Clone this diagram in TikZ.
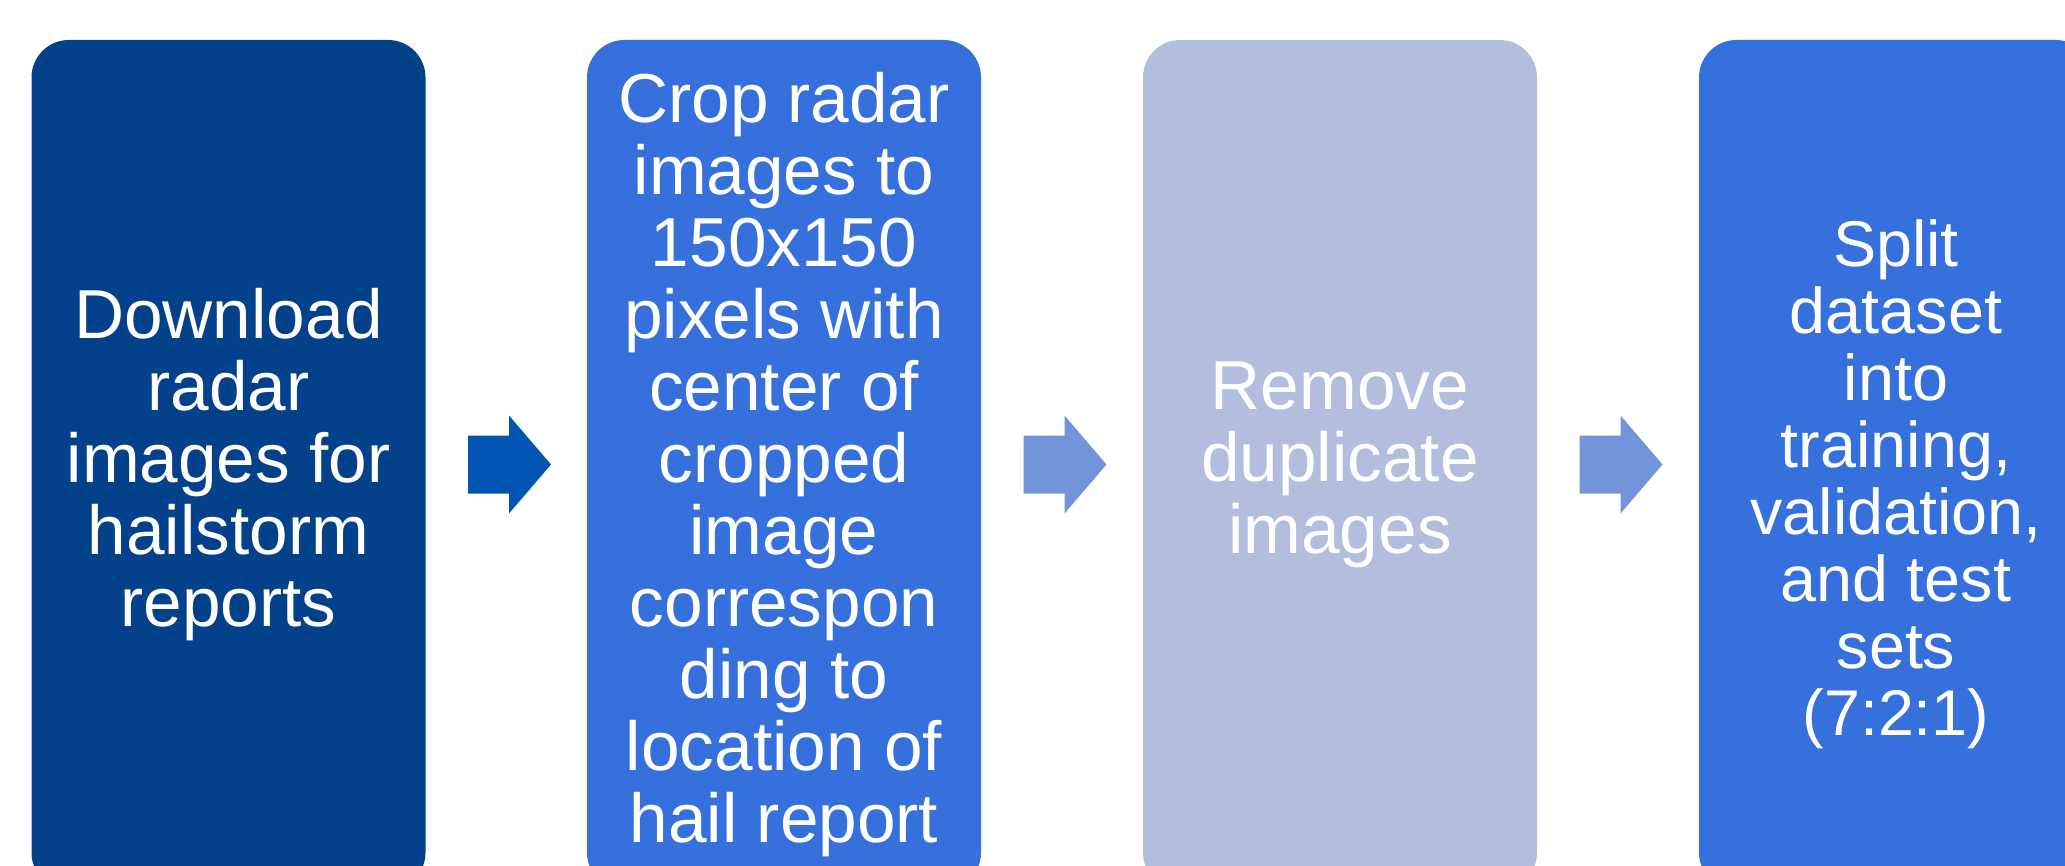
\documentclass[tikz,border=0pt]{standalone}
\usepackage{fontspec}
\setmainfont{Liberation Sans}
\usetikzlibrary{calc}

\definecolor{navyblue}{RGB}{3,65,138}
\definecolor{midblue}{RGB}{54,112,220}
\definecolor{paleblue}{RGB}{179,190,223}
\definecolor{arrowdark}{RGB}{3,85,179}
\definecolor{arrowlight}{RGB}{114,148,219}

\tikzset{every picture/.style={line width=0.75pt}}
\tikzset{
  stepbox/.style={rounded corners=28pt, minimum width=295.5pt, minimum height=637.5pt,
    inner sep=0pt, align=center, text=white, font=\fontsize{52}{54}\selectfont},
  steptext/.style={inner sep=0pt, align=center, text=white, font=\fontsize{48.5}{50.3}\selectfont}
}

\begin{document}
\begin{tikzpicture}[x=0.75pt,y=0.75pt,yscale=-1,xscale=1]
\useasboundingbox (0,0) rectangle (2065,866);

% Process steps
\node[stepbox, fill=navyblue] (b1) at (228.5,465) {Download\\radar\\images for\\hailstorm\\reports};
\node[stepbox, fill=midblue] (b2) at (784,465) {Crop radar\\images to\\150x150\\pixels with\\center of\\cropped\\image\\correspon\\ding to\\location of\\hail report};
\node[stepbox, fill=paleblue] (b3) at (1340,465) {Remove\\duplicate\\images};
\node[stepbox, fill=midblue] (b4) at (1896,465) {};
\node[steptext] (t4) at ($(b4.center)+(0,19)$) {Split\\dataset\\into\\training,\\validation,\\and test\\sets\\(7:2:1)};

% Block arrows between the steps
\foreach \a/\c in {b1/arrowdark, b2/arrowlight, b3/arrowlight}
  \fill[\c] ($(\a.east)+(42,-29.5)$) -- ++(41,0) -- ++(0,-20) -- ++(42,49)
    -- ++(-42,49) -- ++(0,-20) -- ++(-41,0) -- cycle;

\end{tikzpicture}
\end{document}
